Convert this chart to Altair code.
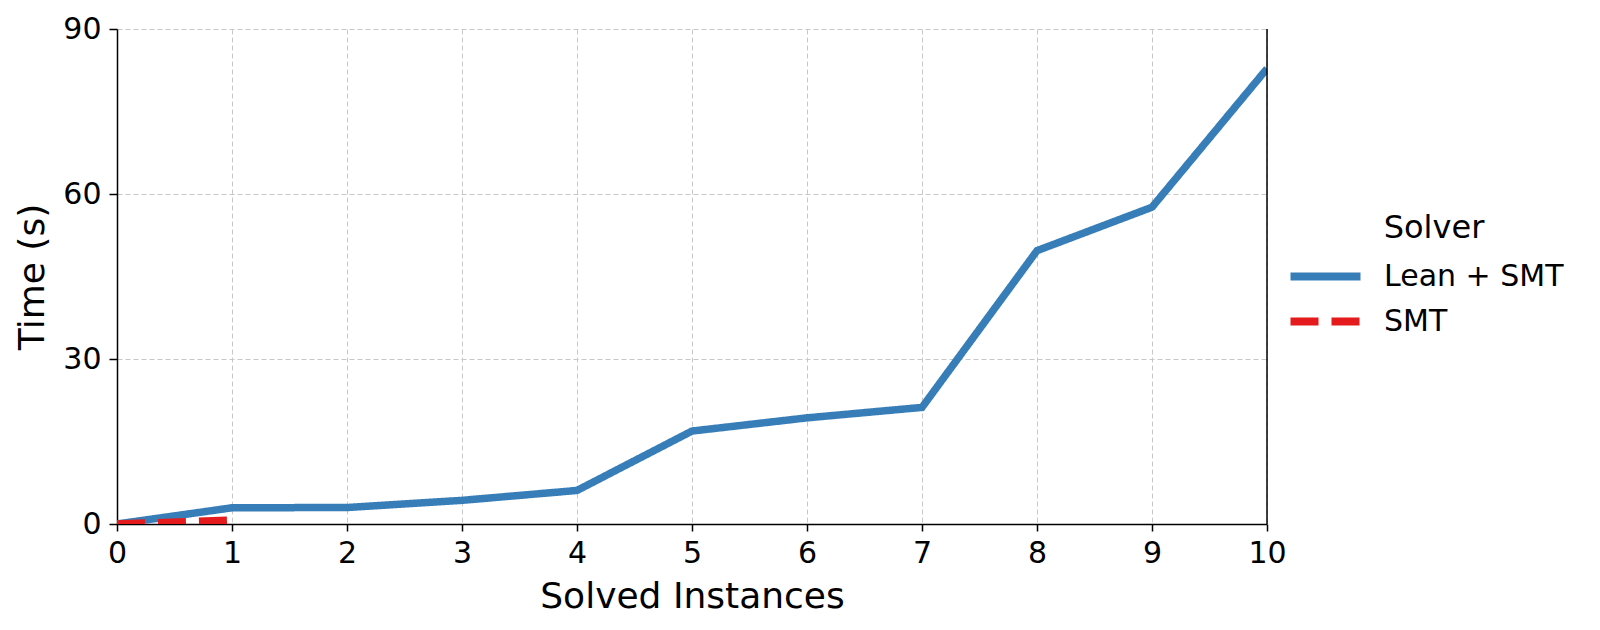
import altair as alt
import pandas as pd

# Data
lean_x = [0, 1, 2, 3, 4, 5, 6, 7, 8, 9, 10]
lean_y = [0, 2.95, 3.0, 4.3, 6.1, 16.9, 19.3, 21.2, 49.7, 57.6, 82.8]
smt_x = [0, 1]
smt_y = [0, 0.7]
solvers = ["Lean + SMT", "SMT"]
x_ticks = [0, 1, 2, 3, 4, 5, 6, 7, 8, 9, 10]
y_ticks = [0, 30, 60, 90]

rows = [{"x": a, "y": b, "Solver": solvers[0]} for a, b in zip(lean_x, lean_y)]
rows += [{"x": a, "y": b, "Solver": solvers[1]} for a, b in zip(smt_x, smt_y)]
df = pd.DataFrame(rows)

FONT = "DejaVu Sans"
W, H = 1150, 495

xscale = alt.Scale(domain=[0, 10], nice=False, zero=False)
yscale = alt.Scale(domain=[0, 90], nice=False)

legend = alt.Legend(
    title="Solver", orient="none", legendX=1187, legendY=184,
    titleAnchor="middle", symbolType="M-2,0H2", symbolSize=1225,
    symbolStrokeWidth=8, labelFontSize=30, titleFontSize=32,
    titleFontWeight="normal", labelOffset=37, rowPadding=7,
    titlePadding=10, padding=0, labelFont=FONT, titleFont=FONT,
    labelColor="black", titleColor="black", labelLimit=0,
)

lines = alt.Chart(df).mark_line(strokeWidth=7.5, clip=True, strokeCap="butt").encode(
    x=alt.X("x:Q", scale=xscale, axis=alt.Axis(
        values=x_ticks, title="Solved Instances", format="d", labelFlush=False,
        titleX=W / 2, titleY=83, titleBaseline="alphabetic",
        titleAlign="center",
    )),
    y=alt.Y("y:Q", scale=yscale, axis=alt.Axis(
        values=y_ticks, title="Time (s)", format="d", labelFlush=False,
        titleX=-74, titleY=H / 2, titleAngle=270, titleBaseline="alphabetic",
        titleAlign="center",
    )),
    color=alt.Color("Solver:N", scale=alt.Scale(domain=solvers, range=["#377eb8", "#e41a1c"]), legend=legend),
    strokeDash=alt.StrokeDash("Solver:N", scale=alt.Scale(domain=solvers, range=[[1, 0], [28, 13]]), legend=legend),
    order=alt.Order("x:Q"),
)

right_spine = alt.Chart(pd.DataFrame({"a": [0]})).mark_rule(color="black", strokeWidth=1.5).encode(
    x=alt.datum(10, scale=xscale),
    y=alt.datum(0, scale=yscale),
    y2=alt.datum(90),
)

chart = alt.layer(lines, right_spine).properties(
    width=W, height=H,
    autosize=alt.AutoSizeParams(type="none"),
    padding={"left": 109, "top": 21, "right": 320, "bottom": 95},
).configure_view(stroke=None).configure_axis(
    labelFont=FONT, titleFont=FONT, labelFontSize=30, titleFontSize=36,
    titleFontWeight="normal", labelColor="black", titleColor="black",
    domainColor="black", domainWidth=1.5, tickColor="black", tickWidth=1.5,
    tickSize=7, labelPadding=7,
    grid=True, gridColor="#c8c8c8", gridDash=[5, 3], gridWidth=1,
).configure_axisY(labelPadding=8, tickSize=8)

chart.save("out.html", embed_options={"renderer": "svg", "actions": False})
